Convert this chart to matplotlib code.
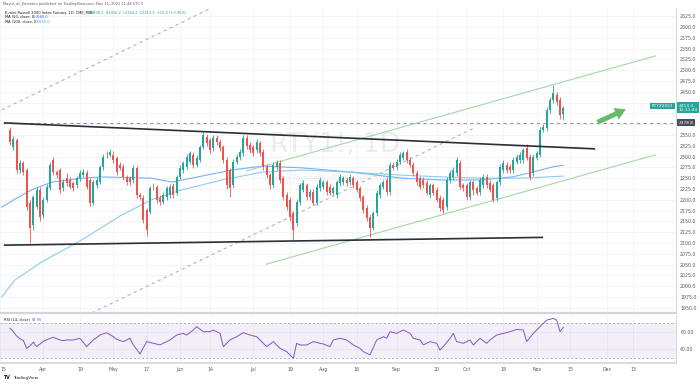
import numpy as np
import pandas as pd
import matplotlib
matplotlib.use("Agg")
import matplotlib.pyplot as plt
from matplotlib.patches import FancyArrowPatch
from matplotlib.transforms import blended_transform_factory

# daily bars, RTY1! (last bar = 2021-11-11)
opens = [2362, 2322, 2338, 2269, 2285, 2269, 2193, 2142, 2183, 2223, 2165, 2200, 2227, 2292, 2264, 2269, 2227, 2250, 2246, 2239,
         2234, 2250, 2257, 2262, 2246, 2193, 2234, 2241, 2276, 2304, 2304, 2304, 2297, 2281, 2276, 2253, 2250, 2246, 2274, 2211,
         2204, 2176, 2172, 2230, 2230, 2204, 2195, 2206, 2211, 2232, 2216, 2253, 2269, 2276, 2288, 2304, 2281, 2292, 2322, 2345,
         2338, 2320, 2343, 2334, 2322, 2292, 2269, 2234, 2288, 2299, 2308, 2343, 2327, 2322, 2315, 2331, 2311, 2276, 2257, 2234,
         2276, 2285, 2250, 2211, 2200, 2169, 2146, 2195, 2223, 2234, 2206, 2218, 2193, 2227, 2230, 2241, 2230, 2216, 2211, 2239,
         2241, 2246, 2241, 2250, 2241, 2227, 2206, 2181, 2160, 2135, 2169, 2211, 2230, 2246, 2218, 2281, 2276, 2288, 2297, 2311,
         2292, 2281, 2262, 2250, 2246, 2239, 2211, 2234, 2223, 2204, 2200, 2183, 2246, 2253, 2262, 2285, 2234, 2234, 2206, 2241,
         2227, 2218, 2234, 2253, 2239, 2234, 2204, 2241, 2269, 2281, 2276, 2269, 2288, 2292, 2292, 2320, 2299, 2262, 2297, 2304,
         2362, 2366, 2408, 2431, 2443, 2431, 2398.2]
highs = [2368, 2348, 2343, 2292, 2290, 2274, 2199, 2212, 2230, 2229, 2206, 2237, 2287, 2299, 2270, 2274, 2248, 2262, 2252, 2244,
         2256, 2270, 2272, 2268, 2250, 2247, 2252, 2281, 2306, 2312, 2318, 2312, 2302, 2288, 2282, 2258, 2256, 2280, 2279, 2216,
         2210, 2182, 2233, 2238, 2235, 2210, 2217, 2232, 2236, 2238, 2258, 2280, 2290, 2305, 2314, 2310, 2303, 2328, 2356, 2352,
         2344, 2349, 2350, 2340, 2328, 2298, 2274, 2294, 2305, 2317, 2349, 2350, 2333, 2328, 2340, 2337, 2317, 2282, 2263, 2287,
         2292, 2291, 2256, 2217, 2206, 2175, 2201, 2240, 2246, 2240, 2224, 2224, 2236, 2252, 2247, 2247, 2236, 2233, 2247, 2259,
         2256, 2252, 2259, 2256, 2247, 2233, 2212, 2187, 2166, 2175, 2222, 2240, 2247, 2252, 2287, 2288, 2294, 2310, 2314, 2318,
         2298, 2287, 2268, 2256, 2252, 2245, 2240, 2240, 2229, 2210, 2206, 2252, 2268, 2275, 2298, 2291, 2240, 2240, 2247, 2247,
         2233, 2252, 2259, 2259, 2245, 2240, 2247, 2282, 2291, 2287, 2282, 2298, 2305, 2310, 2321, 2330, 2305, 2305, 2314, 2368,
         2375, 2414, 2437, 2466, 2450, 2437, 2416.2]
lows = [2328, 2315, 2262, 2262, 2258, 2176, 2100, 2130, 2178, 2152, 2158, 2194, 2222, 2258, 2250, 2215, 2220, 2233, 2224, 2220,
        2228, 2244, 2252, 2224, 2185, 2188, 2228, 2236, 2270, 2296, 2298, 2286, 2258, 2268, 2246, 2234, 2235, 2240, 2204, 2199,
        2146, 2116, 2166, 2222, 2192, 2188, 2190, 2200, 2205, 2205, 2210, 2248, 2263, 2271, 2283, 2274, 2276, 2287, 2317, 2325,
        2308, 2314, 2328, 2314, 2286, 2226, 2206, 2228, 2282, 2293, 2302, 2318, 2309, 2302, 2309, 2302, 2270, 2250, 2226, 2228,
        2270, 2240, 2200, 2176, 2152, 2107, 2140, 2189, 2217, 2200, 2200, 2187, 2187, 2221, 2224, 2212, 2210, 2210, 2205, 2233,
        2235, 2233, 2235, 2228, 2217, 2198, 2170, 2152, 2114, 2129, 2163, 2205, 2224, 2212, 2212, 2268, 2270, 2282, 2291, 2286,
        2275, 2256, 2235, 2224, 2228, 2210, 2205, 2210, 2194, 2175, 2170, 2177, 2240, 2247, 2256, 2224, 2221, 2200, 2200, 2210,
        2210, 2212, 2228, 2228, 2217, 2194, 2198, 2235, 2263, 2263, 2263, 2263, 2282, 2286, 2286, 2291, 2247, 2256, 2291, 2298,
        2356, 2360, 2402, 2425, 2420, 2388, 2384.2]
closes = [2334, 2341, 2269, 2285, 2264, 2183, 2135, 2207, 2223, 2160, 2200, 2230, 2281, 2264, 2257, 2223, 2241, 2239, 2230, 2227,
          2250, 2262, 2264, 2230, 2193, 2241, 2246, 2276, 2299, 2303, 2311, 2292, 2264, 2274, 2253, 2241, 2241, 2274, 2211, 2206,
          2153, 2130, 2227, 2229, 2200, 2195, 2211, 2227, 2230, 2211, 2253, 2274, 2285, 2299, 2308, 2281, 2297, 2322, 2350, 2331,
          2315, 2343, 2334, 2320, 2292, 2234, 2227, 2288, 2299, 2311, 2343, 2324, 2315, 2308, 2334, 2308, 2276, 2257, 2234, 2281,
          2285, 2246, 2206, 2183, 2160, 2130, 2195, 2234, 2239, 2206, 2218, 2193, 2230, 2246, 2241, 2218, 2216, 2227, 2241, 2253,
          2250, 2239, 2253, 2234, 2223, 2204, 2176, 2158, 2135, 2169, 2216, 2234, 2241, 2218, 2281, 2274, 2288, 2304, 2308, 2292,
          2281, 2262, 2241, 2230, 2234, 2216, 2234, 2216, 2200, 2181, 2176, 2246, 2262, 2269, 2292, 2230, 2227, 2206, 2241, 2223,
          2216, 2246, 2253, 2234, 2223, 2200, 2241, 2276, 2285, 2269, 2269, 2292, 2299, 2304, 2315, 2297, 2253, 2299, 2308, 2362,
          2369, 2408, 2431, 2447, 2426, 2396, 2413.3]

# moving averages (at a few bars)
ma50_bar = [-2.5, 2, 6.5, 12.5, 21.5, 27.5, 42.5, 48.5, 57.6, 66.6, 75.6, 87.6, 102.6, 117.6, 129.6, 141.6, 150.7, 156.7, 162.7, 166]
ma50_val = [2183, 2204, 2223, 2241, 2250, 2253, 2250, 2241, 2255, 2269, 2278, 2274, 2264, 2250, 2246, 2246, 2253, 2264, 2276, 2280]
ma100_bar = [-2.5, 1.4, 9.5, 21.5, 33.5, 42.5, 51.5, 63.6, 75.6, 87.6, 102.6, 117.6, 129.6, 141.6, 150.7, 156.7, 166]
ma100_val = [1975, 2014, 2056, 2107, 2165, 2200, 2223, 2246, 2264, 2269, 2264, 2257, 2253, 2250, 2250, 2251, 2255]

# RSI(14)
rsi_bar = [0, 1, 2, 3, 4, 5, 6, 7, 8, 10, 12, 13, 15, 16, 17, 19, 21, 23, 25, 27, 29, 31, 32, 34, 36, 37, 39, 41, 43, 45,
           47, 48, 50, 52, 53, 55, 56, 58, 60, 61, 63, 64, 66, 68, 70, 72, 74, 76, 77, 79, 81, 83, 85, 86, 87, 89, 91, 93,
           94, 96, 97, 99, 101, 103, 105, 106, 108, 110, 112, 113, 114, 116, 118, 120, 121, 123, 124, 126, 128, 129, 130,
           132, 133, 134, 136, 138, 139, 141, 143, 144, 146, 148, 150, 152, 154, 155, 157, 159, 160, 161, 163, 164, 165, 166]
rsi_val = [64, 60, 55, 52, 50, 41, 44, 48, 43, 49, 52.5, 53.6, 50.6, 49.8, 50.6, 50.6, 52.5, 43, 50.6, 56.2, 58.9, 54.3,
           51.3, 48.7, 52.5, 45, 34.7, 48.7, 46.8, 45, 48.7, 50.6, 56.2, 58.1, 56.2, 61.9, 65.7, 60, 60, 61.9, 58.1, 43,
           50.6, 54.3, 58.9, 56.2, 54.3, 46.8, 43, 48.7, 41.1, 37.3, 29.8, 46.8, 44.9, 44.9, 48.7, 46.8, 46, 43, 50.6, 52.5,
           50.6, 44.9, 41.1, 37.3, 33.6, 50.6, 54.3, 52.5, 60, 58.1, 61.9, 58.1, 52.5, 50.6, 45, 48.7, 46.8, 39.2, 43, 52.5,
           58.1, 48.7, 46.8, 50.6, 44.9, 52.5, 46.8, 50.6, 56.2, 58.1, 60, 62.6, 61.9, 48.7, 58.1, 65.7, 69.4, 73.2, 75.1,
           73.2, 60, 64.95]

# drawings: (bar, price) anchors
upper_black = ([-1.6, 175.3], [2378, 2318])
lower_black = ([-1.6, 159.7], [2095, 2113])
level_price = 2378.8
upper_green = ([71, 193.6], [2267, 2533])
lower_green = ([76.9, 193.6], [2051, 2304])
dash_low = ([24.5, 139.7], [1938, 2368])
dash_up = ([-2.5, 60.4], [2408, 2644])
arrow_from = (175.5, 2377)
arrow_to = (185.5, 2412)

tick_dates = ["2021-03-15", "2021-04-01", "2021-04-19", "2021-05-03", "2021-05-17", "2021-06-01", "2021-06-14",
              "2021-07-01", "2021-07-19", "2021-08-02", "2021-08-16", "2021-09-01", "2021-09-20", "2021-10-01",
              "2021-10-18", "2021-11-01", "2021-11-15", "2021-12-01", "2021-12-13"]
tick_labels = ["15", "Apr", "19", "May", "17", "Jun", "14", "Jul", "19", "Aug", "16", "Sep", "20", "Oct", "18",
               "Nov", "15", "Dec", "13"]
price_ticks = np.arange(1950, 2650, 25)

# bar positions from the trading calendar
cal = pd.offsets.CustomBusinessDay(holidays=["2021-04-02", "2021-05-31", "2021-07-05", "2021-09-06", "2021-11-25"])
days = pd.date_range("2021-03-01", "2021-12-31", freq=cal)
shift = days.get_loc(pd.Timestamp("2021-11-11")) - (len(closes) - 1)
tick_pos = [days.get_loc(pd.Timestamp(d)) - shift for d in tick_dates]

UP, DOWN = "#26a69a", "#ef5350"
GRID = "#f0f2f6"
TXT = "#555a66"

fig = plt.figure(figsize=(7, 3.84), dpi=100)
ax = fig.add_axes([0, 0.1849, 0.9657, 0.7943])
rax = fig.add_axes([0, 0.0547, 0.9657, 0.125], sharex=ax)

o = np.array(opens); h = np.array(highs); l = np.array(lows); c = np.array(closes)
x = np.arange(len(c))
col = np.where(c >= o, UP, DOWN)
ax.vlines(x, l, h, colors=col, lw=0.6, zorder=3)
ax.bar(x, np.maximum(np.abs(c - o), 1.2), bottom=np.minimum(o, c), width=0.62, color=col, lw=0, zorder=4)

ax.plot(ma50_bar, ma50_val, color="#5b9cf6", lw=0.8, alpha=0.8, zorder=2)
ax.plot(ma100_bar, ma100_val, color="#80c8e8", lw=0.8, alpha=0.9, zorder=2)

ax.plot(*upper_black, color="#2a2e39", lw=1.2, zorder=5)
ax.plot(*lower_black, color="#2a2e39", lw=1.2, zorder=5)
ax.axhline(level_price, xmin=0.004, color="#9598a1", lw=0.8, ls=(0, (3, 3)), zorder=2)
ax.plot(*upper_green, color="#a5d6a7", lw=0.8, zorder=2)
ax.plot(*lower_green, color="#a5d6a7", lw=0.8, zorder=2)
ax.plot(*dash_low, color="#b2b5be", lw=0.8, ls=(0, (3, 3)), zorder=2)
ax.plot(*dash_up, color="#b2b5be", lw=0.8, ls=(0, (3, 3)), zorder=2)
ax.add_patch(FancyArrowPatch(arrow_from, arrow_to, arrowstyle="simple,head_width=1.3,head_length=1.1,tail_width=0.5",
                             mutation_scale=7, color="#66bb6a", lw=0, zorder=6))

ax.set_xlim(-2.49, 199.8)
ax.set_ylim(1938, 2644)
ax.set_yticks(price_ticks)
# labels hidden behind the price tags are left blank
ax.set_yticklabels(["" if 2370 < v < 2430 else f"{v:.1f}" for v in price_ticks])
ax.yaxis.tick_right()
ax.tick_params(axis="y", length=0, labelsize=3.4, colors=TXT, pad=3)
ax.set_xticks(tick_pos)
ax.tick_params(axis="x", length=0, labelbottom=False)
ax.grid(True, color=GRID, lw=0.6)
ax.set_axisbelow(True)
for s in ["left", "top"]:
    ax.spines[s].set_visible(False)
ax.spines["right"].set_color("#d1d4dc")
ax.spines["right"].set_linewidth(0.6)
ax.spines["bottom"].set_color("#d1d4dc")
ax.spines["bottom"].set_linewidth(1.6)

# watermark
ax.text(0.496, 0.55, "RTY1!, 1D", transform=ax.transAxes, ha="center", va="center",
        fontsize=19, color="#787b86", alpha=0.13, zorder=1)
ax.text(0.496, 0.44, "E-mini Russell 2000 Index Futures", transform=ax.transAxes, ha="center", va="center",
        fontsize=6, color="#787b86", alpha=0.13, zorder=1)

# price tags on the axis
tr = blended_transform_factory(ax.transAxes, ax.transData)
ax.text(1.004, closes[-1], f"{closes[-1]:.1f}\n12:11:44", transform=tr, ha="left", va="center", fontsize=3.1,
        color="white", linespacing=1.1, bbox=dict(boxstyle="square,pad=0.35", fc=UP, ec="none"), clip_on=False, zorder=8)
ax.text(0.996, closes[-1] + 4, "RTYZ2021", transform=tr, ha="right", va="center", fontsize=3.1, color="white",
        bbox=dict(boxstyle="square,pad=0.3", fc=UP, ec="none"), clip_on=False, zorder=8)
ax.text(1.004, level_price, f"{level_price:.1f}", transform=tr, ha="left", va="center", fontsize=3.1, color="white",
        bbox=dict(boxstyle="square,pad=0.3", fc="#4a4e59", ec="none"), clip_on=False, zorder=8)

# legend lines
fig.text(0.004, 0.989, "Mayur_at_Emstairs published on TradingView.com, Nov 11, 2021 11:48 UTC 5",
         fontsize=2.6, color=TXT, va="center")
ax.text(0.008, 0.985, "E-mini Russell 2000 Index Futures, 1D, CME_MINI", transform=ax.transAxes, fontsize=2.6,
        color="#131722", va="center")
ax.text(0.13, 0.985, "O2398.2  H2416.2  L2384.2  C2413.3  +15.0 (+0.96%)", transform=ax.transAxes, fontsize=2.6,
        color=UP, va="center")
ax.text(0.008, 0.970, "MA (50, close, 0)", transform=ax.transAxes, fontsize=2.6, color="#131722", va="center")
ax.text(0.053, 0.970, f"{ma50_val[-1]:.1f}", transform=ax.transAxes, fontsize=2.6, color="#2962ff", va="center")
ax.text(0.008, 0.955, "MA (100, close, 0)", transform=ax.transAxes, fontsize=2.6, color="#131722", va="center")
ax.text(0.056, 0.955, f"{ma100_val[-1]:.1f}", transform=ax.transAxes, fontsize=2.6, color="#42a5f5", va="center")

# RSI pane
rax.axhspan(30, 70, color="#7e57c2", alpha=0.09, lw=0)
rax.axhline(70, color="#9598a1", lw=0.5, ls=(0, (3, 3)))
rax.axhline(30, color="#9598a1", lw=0.5, ls=(0, (3, 3)))
rax.plot(rsi_bar, rsi_val, color="#7e57c2", lw=0.7)
rax.set_ylim(24.4, 79)
rax.set_yticks([40, 60])
rax.set_yticklabels(["40.00", "60.00"])
rax.yaxis.tick_right()
rax.tick_params(axis="y", length=0, labelsize=3.4, colors=TXT, pad=3)
rax.set_xticks(tick_pos)
rax.set_xticklabels(tick_labels)
rax.get_xticklabels()[0].set_horizontalalignment("left")
rax.tick_params(axis="x", length=0, labelsize=3.4, colors=TXT, pad=3)
rax.grid(True, color=GRID, lw=0.6)
rax.set_axisbelow(True)
for s in ["left", "top"]:
    rax.spines[s].set_visible(False)
rax.spines["right"].set_color("#d1d4dc")
rax.spines["right"].set_linewidth(0.6)
rax.spines["bottom"].set_color("#d1d4dc")
rax.spines["bottom"].set_linewidth(1.2)
rax.text(0.006, 0.9, "RSI (14, close)", transform=rax.transAxes, fontsize=2.6, color="#131722", va="center")
rax.text(0.047, 0.9, f"{rsi_val[-1]:.2f}", transform=rax.transAxes, fontsize=2.6, color="#7e57c2", va="center")

fig.text(0.004, 0.016, "TV", fontsize=3.4, fontweight="bold", color="#131722", va="center")
fig.text(0.018, 0.016, "TradingView", fontsize=3, color="#131722", va="center")

fig.savefig("out.png", dpi=100, facecolor="white")
